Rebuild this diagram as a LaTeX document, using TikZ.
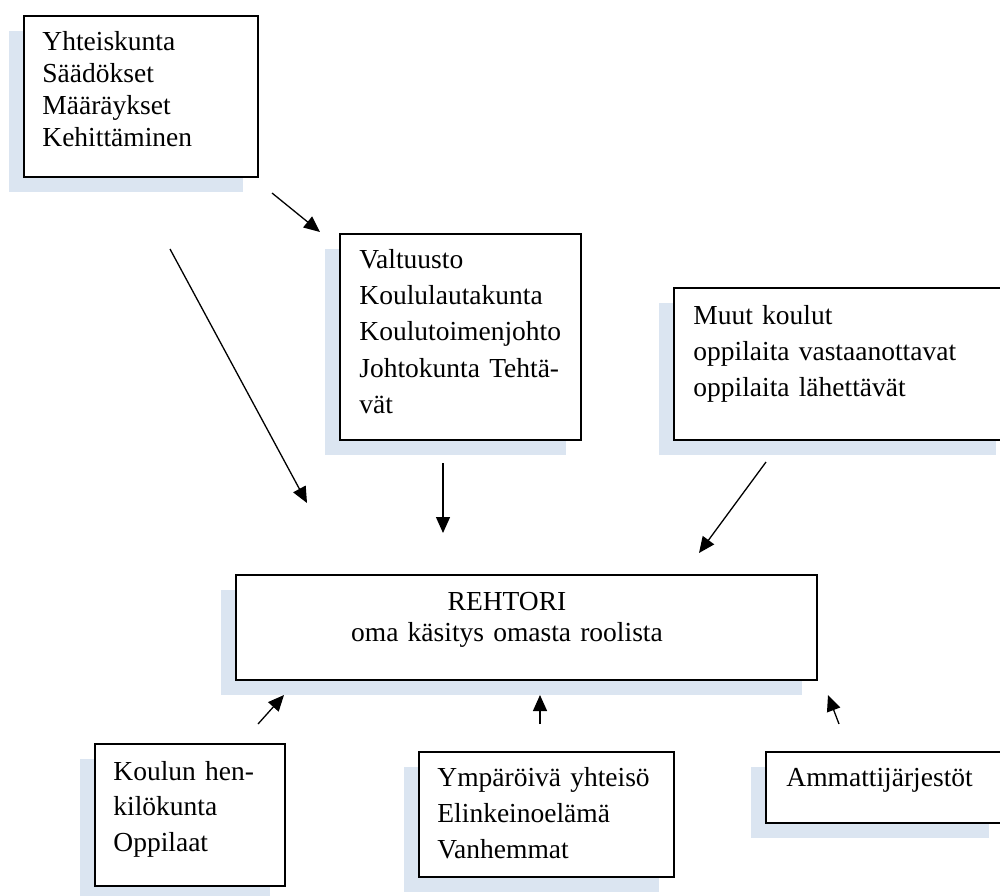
\documentclass[tikz,border=0pt]{standalone}
\usepackage{fontspec}
\setmainfont{Liberation Serif}
\usepackage{tikz}
\usetikzlibrary{arrows.meta,shadows}
\definecolor{shadow_blue}{RGB}{219,229,241}

\begin{document}
\begin{tikzpicture}[x=0.5pt, y=-0.5pt,
    box/.style={draw, line width=1pt, fill=white, inner sep=0pt, outer sep=0pt, anchor=north west,
      general shadow={fill=shadow_blue, shadow xshift=-7.5pt, shadow yshift=-7.5pt}},
    txt/.style={anchor=base west, align=left, inner sep=0pt, font=\fontsize{13.75pt}{18.2pt}\selectfont},
    arr/.style={-{Triangle[length=8pt, width=7pt]}, line width=0.65pt}]
      \useasboundingbox (0,0) rectangle (1000,895);
      \clip (0,0) rectangle (1000,895);
      % Draw the boxes
      \node[box, minimum width=117pt, minimum height=80.5pt] (yht) at (24,16) {};
      \node[box, minimum width=120.5pt, minimum height=103pt] (val) at (340,234) {};
      \node[box, minimum width=168.5pt, minimum height=76pt] (muut) at (674,288) {};
      \node[box, minimum width=290.5pt, minimum height=52.5pt] (reh) at (236,575) {};
      \node[box, minimum width=95pt, minimum height=71pt] (kou) at (95,744) {};
      \node[box, minimum width=127.5pt, minimum height=62.5pt] (ymp) at (419,752) {};
      \node[box, minimum width=119pt, minimum height=35.5pt] (amm) at (766,752) {};
      % Texts in the boxes
      \node[txt, text width=100pt, font=\fontsize{13.75pt}{16.1pt}\selectfont] (yhtText)
        at ([shift={(18,34)}]yht.north west) {Yhteiskunta\\Säädökset\\Määräykset\\Kehittäminen};
      \node[txt, text width=106pt] (valText)
        at ([shift={(19,34)}]val.north west) {Valtuusto\\Koululautakunta\\Koulutoimenjohto\\Johtokunta Tehtä-\\vät};
      \node[txt, text width=150pt] (muutText)
        at ([shift={(19,36)}]muut.north west) {Muut koulut\\oppilaita vastaanottavat\\oppilaita lähettävät};
      \node[txt, anchor=base, align=center, text width=200pt, font=\fontsize{13.75pt}{15.5pt}\selectfont] (rehText)
        at (507,610) {REHTORI\\oma käsitys omasta roolista};
      \node[txt, text width=80pt, font=\fontsize{13.75pt}{17.8pt}\selectfont] (kouText)
        at ([shift={(18,36)}]kou.north west) {Koulun hen-\\kilökunta\\Oppilaat};
      \node[txt, text width=112pt, font=\fontsize{13.75pt}{18pt}\selectfont] (ympText)
        at ([shift={(18,34)}]ymp.north west) {Ympäröivä yhteisö\\Elinkeinoelämä\\Vanhemmat};
      \node[txt, text width=100pt] (ammText)
        at ([shift={(20,34)}]amm.north west) {Ammattijärjestöt};
      % Free ends of the arrows
      \coordinate (yhtOut) at (272,193);
      \coordinate (valIn) at (320,232);
      \coordinate (yhtOut2) at (170,249);
      \coordinate (rehIn1) at (307,503);
      \coordinate (valOut) at (443,463);
      \coordinate (rehIn2) at (443,533);
      \coordinate (muutOut) at (766,462);
      \coordinate (rehIn3) at (699,553);
      \coordinate (kouOut) at (258,724);
      \coordinate (rehIn4) at (284,695);
      \coordinate (ympOut) at (540,724);
      \coordinate (rehIn5) at (540,695);
      \coordinate (ammOut) at (839,724);
      \coordinate (rehIn6) at (828,695);
      % Draw the arrows
      \draw[arr] (yhtOut) -- (valIn);
      \draw[arr] (yhtOut2) -- (rehIn1);
      \draw[arr] (valOut) -- (rehIn2);
      \draw[arr] (muutOut) -- (rehIn3);
      \draw[arr] (kouOut) -- (rehIn4);
      \draw[arr] (ympOut) -- (rehIn5);
      \draw[arr] (ammOut) -- (rehIn6);
\end{tikzpicture}
\end{document}
